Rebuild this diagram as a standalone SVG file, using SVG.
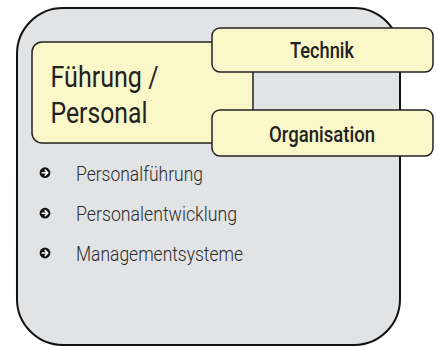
<svg xmlns="http://www.w3.org/2000/svg" width="438" height="347" viewBox="0 0 438 347">
  <defs>
    <style>
      .outer { fill: #E2E3E5; stroke: #111; stroke-width: 2; }
      .box { fill: #FAF8C8; stroke: #222; stroke-width: 1.5; }
      .big { font-family: Roboto, "Liberation Sans", Arial, sans-serif; font-size: 30px; fill: #222; }
      .lbl { font-family: Roboto, "Liberation Sans", Arial, sans-serif; font-weight: 500; font-size: 21.5px; fill: #222; text-anchor: middle; }
      .item { font-family: Roboto, "Liberation Sans", Arial, sans-serif; font-weight: 300; font-size: 20px; fill: #2a2a2a; }
      .bdot { fill: #111; }
      .barrow { fill: none; stroke: #fff; stroke-width: 1.6; stroke-linecap: round; stroke-linejoin: round; }
    </style>
  </defs>

  <g id="frame">
    <rect class="outer" x="17" y="8" width="383" height="337" rx="46" ry="46"/>
  </g>

  <g id="fuehrung">
    <rect class="box" x="32" y="42" width="221" height="101" rx="10" ry="10"/>
    <text class="big" x="50.5" y="86.7" textLength="108" lengthAdjust="spacingAndGlyphs">Führung /</text>
    <text class="big" x="50.5" y="123.3" textLength="97" lengthAdjust="spacingAndGlyphs">Personal</text>
  </g>

  <g id="technik">
    <rect class="box" x="212" y="28" width="221" height="44" rx="8" ry="8"/>
    <text class="lbl" x="322" y="58.3" textLength="64" lengthAdjust="spacingAndGlyphs">Technik</text>
  </g>

  <g id="organisation">
    <rect class="box" x="212" y="110" width="221" height="46" rx="8" ry="8"/>
    <text class="lbl" x="322" y="141.5" textLength="106" lengthAdjust="spacingAndGlyphs">Organisation</text>
  </g>

  <g id="list">
    <g transform="translate(45 172.7)">
      <circle class="bdot" cx="0" cy="0" r="5.4"/>
      <path class="barrow" d="M-2.8 0 H2.6 M0.2 -2.6 L2.8 0 L0.2 2.6"/>
    </g>
    <text class="item" x="76" y="180.7" textLength="127" lengthAdjust="spacingAndGlyphs">Personalführung</text>
    <g transform="translate(45 213.2)">
      <circle class="bdot" cx="0" cy="0" r="5.4"/>
      <path class="barrow" d="M-2.8 0 H2.6 M0.2 -2.6 L2.8 0 L0.2 2.6"/>
    </g>
    <text class="item" x="76" y="221" textLength="161" lengthAdjust="spacingAndGlyphs">Personalentwicklung</text>
    <g transform="translate(45 253)">
      <circle class="bdot" cx="0" cy="0" r="5.4"/>
      <path class="barrow" d="M-2.8 0 H2.6 M0.2 -2.6 L2.8 0 L0.2 2.6"/>
    </g>
    <text class="item" x="76" y="260.7" textLength="167" lengthAdjust="spacingAndGlyphs">Managementsysteme</text>
  </g>

  <g id="connectors"></g>
</svg>
